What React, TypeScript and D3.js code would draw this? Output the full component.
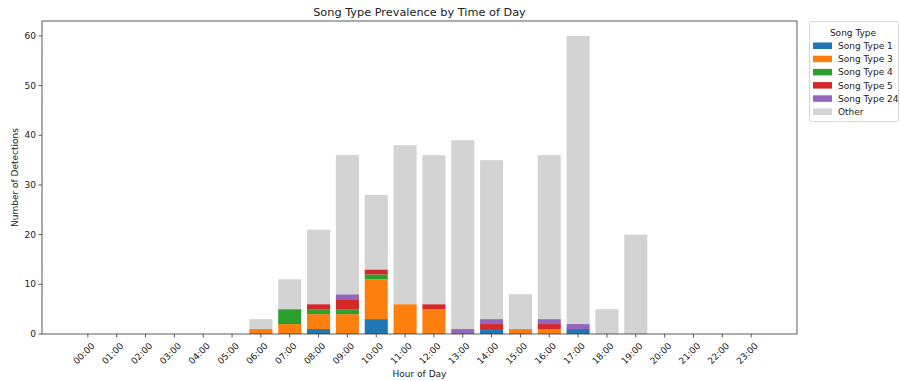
import React from "react";
import * as d3 from "d3";

const hours = ["00:00","01:00","02:00","03:00","04:00","05:00","06:00","07:00","08:00","09:00","10:00","11:00","12:00","13:00","14:00","15:00","16:00","17:00","18:00","19:00","20:00","21:00","22:00","23:00"];
const songType1 =  [0,0,0,0,0,0,0,0,1,0,3,0,0,0,1,0,0,1,0,0,0,0,0,0];
const songType3 =  [0,0,0,0,0,0,1,2,3,4,8,6,5,0,0,1,1,0,0,0,0,0,0,0];
const songType4 =  [0,0,0,0,0,0,0,3,1,1,1,0,0,0,0,0,0,0,0,0,0,0,0,0];
const songType5 =  [0,0,0,0,0,0,0,0,1,2,1,0,1,0,1,0,1,0,0,0,0,0,0,0];
const songType24 = [0,0,0,0,0,0,0,0,0,1,0,0,0,1,1,0,1,1,0,0,0,0,0,0];
const other =      [0,0,0,0,0,0,2,6,15,28,15,32,30,38,32,7,33,58,5,20,0,0,0,0];
const seriesNames = ["Song Type 1","Song Type 3","Song Type 4","Song Type 5","Song Type 24","Other"];
const seriesColors = ["#1f77b4","#ff7f0e","#2ca02c","#d62728","#9467bd","#d3d3d3"];
const yTicks = [0,10,20,30,40,50,60];

const W = 900, H = 381;
const left = 42, right = 797, top = 21, bottom = 334;
const FONT = "DejaVu Sans, sans-serif";

export default function App() {
  const seriesData = [songType1, songType3, songType4, songType5, songType24, other];
  const rows = hours.map((h, i) => {
    const r: any = { hour: h };
    seriesNames.forEach((n, k) => (r[n] = seriesData[k][i]));
    return r;
  });
  const stacked = d3.stack().keys(seriesNames)(rows);
  const n = hours.length;
  const pad = (n - 1 + 0.8) * 0.05;
  const x = d3.scaleLinear().domain([-0.4 - pad, n - 1 + 0.4 + pad]).range([left, right]);
  const bw = x(0.8) - x(0);
  const y = d3.scaleLinear().domain([0, 63]).range([bottom, top]);

  return (
    <svg width={W} height={H} style={{ position: "absolute", left: 0, top: 0, fontFamily: FONT }}>
      <rect x={0} y={0} width={W} height={H} fill="#fff" />
      {stacked.map((s, k) => (
        <g key={k} fill={seriesColors[k]}>
          {s.map((d, i) =>
            d[1] - d[0] > 0 ? (
              <rect key={i} x={x(i) - bw / 2} y={y(d[1])} width={bw} height={y(d[0]) - y(d[1])} />
            ) : null
          )}
        </g>
      ))}
      <rect x={left} y={top} width={right - left} height={bottom - top} fill="none" stroke="#333" strokeWidth={0.8} />
      {yTicks.map((t) => (
        <g key={t}>
          <line x1={left - 3.5} x2={left} y1={y(t)} y2={y(t)} stroke="#333" strokeWidth={0.8} />
          <text x={left - 6} y={y(t)} dy="0.35em" textAnchor="end" fontSize={9} fill="#222">{t}</text>
        </g>
      ))}
      {hours.map((h, i) => (
        <g key={h}>
          <line x1={x(i)} x2={x(i)} y1={bottom} y2={bottom + 3.5} stroke="#333" strokeWidth={0.8} />
          <text transform={`translate(${x(i) + 3},${bottom + 8}) rotate(-45)`} textAnchor="end" dy="0.7em" fontSize={9} fill="#222">{h}</text>
        </g>
      ))}
      <text x={(left + right) / 2} y={16} textAnchor="middle" fontSize={11.3} fill="#222">Song Type Prevalence by Time of Day</text>
      <text x={(left + right) / 2} y={377} textAnchor="middle" fontSize={9} fill="#222">Hour of Day</text>
      <text transform={`translate(18,${(top + bottom) / 2}) rotate(-90)`} textAnchor="middle" fontSize={9} fill="#222">Number of Detections</text>
      <g>
        <rect x={809.5} y={21.5} width={89} height={100} rx={2} fill="#fff" stroke="#ccc" strokeWidth={0.8} />
        <text x={853} y={36} textAnchor="middle" fontSize={9} fill="#222">Song Type</text>
        {seriesNames.map((nm, k) => (
          <g key={nm}>
            <rect x={813} y={42.5 + k * 13.2} width={19} height={6.5} fill={seriesColors[k]} />
            <text x={838} y={45.8 + k * 13.2} dy="0.35em" fontSize={9} fill="#222">{nm}</text>
          </g>
        ))}
      </g>
    </svg>
  );
}
